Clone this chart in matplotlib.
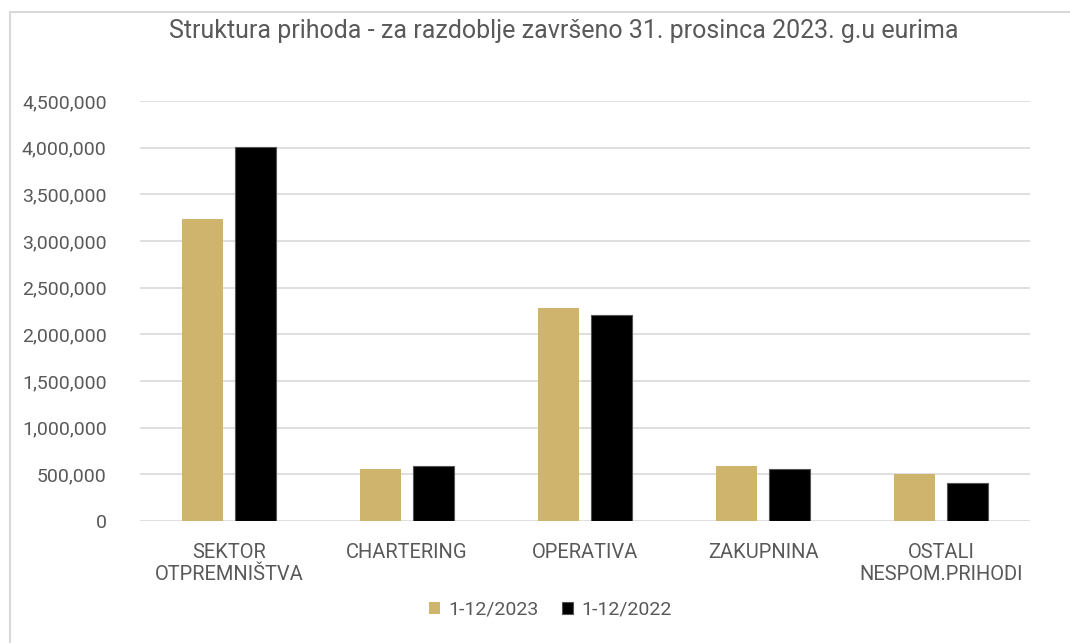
import matplotlib
matplotlib.use("Agg")
import matplotlib.pyplot as plt
from matplotlib.patches import Rectangle
from matplotlib.ticker import FuncFormatter
import numpy as np

plt.rcParams['font.family'] = ['Roboto', 'DejaVu Sans']

categories = ["SEKTOR\nOTPREMNIŠTVA", "CHARTERING", "OPERATIVA", "ZAKUPNINA", "OSTALI\nNESPOM.PRIHODI"]
series_names = ["1-12/2023", "1-12/2022"]
values_2023 = [3236000, 557000, 2282000, 589000, 507000]
values_2022 = [4010000, 593000, 2207000, 554000, 404000]
yticks = [0, 500000, 1000000, 1500000, 2000000, 2500000, 3000000, 3500000, 4000000, 4500000]

gold = "#CFB46E"
txt = "#595959"

fig = plt.figure(figsize=(10.7, 6.43), dpi=100)
ax = fig.add_axes([140/1070, 1-521/643, (1030-140)/1070, (521-101)/643])

x = np.arange(len(categories))
w = 0.23
off = 0.149
ax.bar(x - off, values_2023, w, color=gold, label=series_names[0], zorder=3)
ax.bar(x + off, values_2022, w, color="black", edgecolor="#555555", linewidth=0.8,
       label=series_names[1], zorder=3)

ax.set_xlim(-0.5, len(categories) - 0.5)
ax.set_ylim(0, 4500000)
ax.set_yticks(yticks)
ax.yaxis.set_major_formatter(FuncFormatter(lambda v, p: f"{int(v):,}"))
ax.grid(axis='y', color="#d9d9d9", linewidth=1.2, zorder=0)
for s in ax.spines.values():
    s.set_visible(False)
ax.tick_params(axis='y', length=0, labelsize=14, colors=txt, pad=24)
ax.set_xticks(x)
ax.set_xticklabels(categories, linespacing=1.2)
ax.tick_params(axis='x', length=0, labelsize=14.5, colors=txt, pad=16)

fig.text(0.527, 1-31/643, "Struktura prihoda - za razdoblje završeno 31. prosinca 2023. g.u eurima",
         ha='center', va='center', fontsize=18, color=txt)

leg = fig.legend(loc='center', bbox_to_anchor=(0.514, 1-610/643), ncol=2, frameon=False,
                 fontsize=14, handlelength=0.6, handleheight=0.6, handletextpad=0.4,
                 columnspacing=1.2)
for t in leg.get_texts():
    t.set_color(txt)

fig.patches.append(Rectangle((10/1070, -0.1), 1.1, 1-12/643 + 0.1, transform=fig.transFigure,
                             fill=False, edgecolor="#d9d9d9", linewidth=1.5))

fig.savefig("out.png", dpi=100)
